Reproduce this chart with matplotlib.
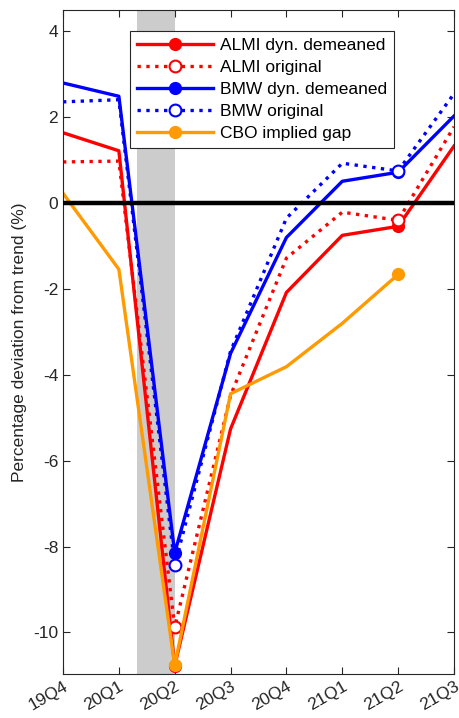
import matplotlib
matplotlib.use("Agg")
import matplotlib.pyplot as plt

plt.rcParams['font.family'] = ['Liberation Sans', 'DejaVu Sans']
plt.rcParams['axes.unicode_minus'] = False

# quarters on the x axis
quarters = ['19Q4', '20Q1', '20Q2', '20Q3', '20Q4', '21Q1', '21Q2', '21Q3']

# output gap estimates (% deviation from trend)
almi_dyn = [1.64, 1.22, -10.78, -5.26, -2.08, -0.75, -0.54, 1.33]
almi_orig = [0.96, 0.98, -9.88, -4.48, -1.28, -0.21, -0.40, 1.78]
bmw_dyn = [2.80, 2.49, -8.15, -3.50, -0.80, 0.51, 0.72, 2.03]
bmw_orig = [2.36, 2.41, -8.43, -3.45, -0.35, 0.93, 0.75, 2.55]
cbo_gap = [0.23, -1.54, -10.77, -4.44, -3.81, -2.80, -1.66]

# recession shading (in quarter index units)
rec_start, rec_end = 1.33, 2.0

red = '#ff0000'
blue = '#0000ff'
orange = '#ff9a00'

fig = plt.figure(figsize=(4.6, 7.18), dpi=100)
ax = fig.add_axes([63 / 460, 44 / 718, 391 / 460, 664 / 718])

x = list(range(len(quarters)))
xc = list(range(len(cbo_gap)))
marks = [2, 6]
lw = 2.4
ms = 8.5

ax.axvspan(rec_start, rec_end, color='#cccccc', lw=0, zorder=0)

ax.plot(x, almi_dyn, '-', color=red, lw=lw, marker='o', ms=ms,
        markevery=marks, mfc=red, mec=red, label='ALMI dyn. demeaned')
ax.plot(x, almi_orig, ':', color=red, lw=lw, marker='o', ms=ms,
        markevery=marks, mfc='white', mec=red, mew=1.5, label='ALMI original')
ax.plot(x, bmw_dyn, '-', color=blue, lw=lw, marker='o', ms=ms,
        markevery=marks, mfc=blue, mec=blue, label='BMW dyn. demeaned')
ax.plot(x, bmw_orig, ':', color=blue, lw=lw, marker='o', ms=ms,
        markevery=marks, mfc='white', mec=blue, mew=1.5, label='BMW original')
ax.plot(xc, cbo_gap, '-', color=orange, lw=lw, marker='o', ms=ms,
        markevery=marks, mfc=orange, mec=orange, label='CBO implied gap')

ax.axhline(0, color='black', lw=3.2, zorder=5)

ax.set_xlim(0, len(quarters) - 1)
ax.set_ylim(-10.97, 4.5)
ax.set_xticks(x)
ax.set_xticklabels(quarters, rotation=30, ha='right', rotation_mode='anchor')
ax.set_yticks([4, 2, 0, -2, -4, -6, -8, -10])
ax.tick_params(direction='in', top=True, right=True, labelsize=12.5,
               color='#262626', labelcolor='#262626', length=5)
for sp in ax.spines.values():
    sp.set_color('#262626')
    sp.set_linewidth(0.8)
ax.set_ylabel('Percentage deviation from trend (%)', fontsize=12.5,
              color='#262626')

leg = ax.legend(loc='upper left', bbox_to_anchor=(67 / 391, 1 - 21 / 664),
                fontsize=12.5, handlelength=4.4, numpoints=1,
                fancybox=False, framealpha=1, edgecolor='#262626',
                borderpad=0.4, labelspacing=0.4, handletextpad=0.4,
                borderaxespad=0)
leg.get_frame().set_linewidth(0.8)

fig.savefig('out.png', dpi=100)
